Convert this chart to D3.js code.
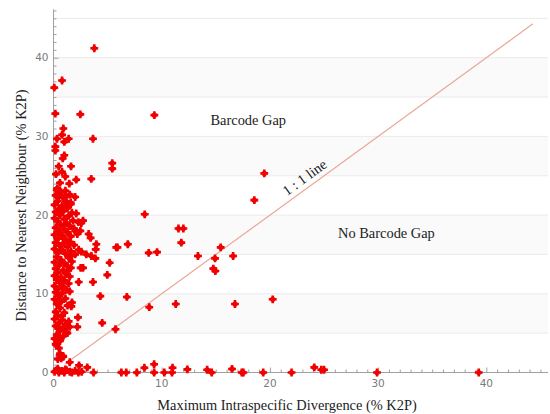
<!DOCTYPE html>
<html><head><meta charset="utf-8">
<script src="https://cdn.jsdelivr.net/npm/d3@7"></script>
<style>body{margin:0;background:#fff}svg{display:block}</style>
</head><body><svg id="c" width="550" height="414"></svg>
<script>
// ---- data ----
const xTickLabels = [0, 10, 20, 30, 40];
const yTickLabels = [0, 10, 20, 30, 40];
const xTitle = "Maximum Intraspecific Divergence (% K2P)";
const yTitle = "Distance to Nearest Neighbour (% K2P)";
const oneToOne = [1.1, 44.3];
// [max intraspecific divergence, distance to nearest neighbour]
const sparsePoints = [
 [3.77,41.2],[0.79,37.1],[0.07,36.2],[0.17,32.9],[2.48,32.8],[9.32,32.7],[0.91,31.0],[0.79,30.2],
 [0.32,29.7],[1.4,29.7],[3.65,29.7],[1.0,29.3],[0.17,28.7],[0.17,28.2],[1.0,27.6],[0.85,27.2],
 [0.48,26.2],[1.62,26.2],[5.43,26.6],[5.43,25.9],[0.79,25.5],[0.23,25.2],[1.09,24.9],[2.1,24.5],
 [3.49,24.6],[0.6,24.1],[1.46,24.0],[0.35,23.4],[1.06,22.3],[2.0,22.3],[0.48,22.4],
 [1.59,21.6],[1.19,21.3],[2.73,19.3],[2.57,19.0],[2.0,18.0],[2.48,18.0],[3.25,17.6],[3.43,17.1],
 [3.96,16.3],[3.9,15.65],[5.8,15.9],[2.57,15.35],[2.33,15.6],[3.5,14.8],[3.87,14.5],[3.03,15.0],
 [1.59,14.8],[5.19,13.95],[2.73,13.3],[2.51,13.3],[1.34,13.0],[4.97,12.4],[2.33,11.5],[3.65,11.5],
 [4.33,9.7],[1.71,8.9],[1.65,8.4],[2.26,7.0],[0.79,7.2],[4.5,6.3],[0.42,5.8],[1.03,5.6],[2.2,5.8],
 [1.28,5.0],[0.57,4.35],[0.26,3.5],[0.57,2.2],[0.72,1.8],[0.88,2.1],[1.5,1.3],[2.36,0.9],[3.12,0.65],
 [5.73,5.5],
 [8.43,20.1],[11.55,18.3],[12.0,18.3],[11.81,16.5],[6.87,16.3],[5.91,15.9],[8.8,15.2],[9.57,15.3],
 [13.35,14.8],[15.45,15.9],[14.93,14.5],[14.77,13.2],[14.96,12.9],[16.6,14.8],[19.48,25.3],[18.56,21.9],
 [16.77,8.7],[20.26,9.3],[6.78,9.6],[11.3,8.7],[8.85,8.3],
 [8.4,0.6],[9.3,1.05],[11.0,0.6],[12.37,0.4],[14.2,0.35],[16.5,0.45],[24.1,0.65],[24.75,0.35],[25.0,0.35],
 [3.7,0],[6.27,0],[6.72,0],[7.7,0],[9.3,0],[10.24,0],[10.95,0],[14.62,0],[17.4,0],[17.55,0],[19.38,0],
 [22.0,0],[29.9,0],[39.3,0]
];
const densePoints = [
 [0.3,23.2],[0.7,22.9],[1.1,23.1],[0.2,22.5],[1.5,22.6],[0.9,22.2],
 [0.4,21.8],[1.2,21.7],[0.1,21.3],[0.8,21.2],[1.6,21.4],[0.5,20.8],[1.3,20.9],
 [0.2,20.4],[0.9,20.5],[1.7,20.3],[0.6,20.0],[1.4,19.9],[2.1,20.2],
 [0.1,19.6],[1.0,19.5],[0.4,19.2],[1.8,19.3],[1.2,19.0],[2.3,19.1],
 [0.7,18.7],[0.2,18.4],[1.5,18.6],[1.0,18.2],[1.9,18.3],[0.5,17.9],
 [1.3,17.8],[0.1,17.5],[0.8,17.4],[1.6,17.3],[2.2,17.6],[0.4,17.0],[1.1,16.9],
 [0.2,16.5],[0.9,16.4],[1.5,16.6],[0.6,16.1],[1.3,16.0],[1.9,16.2],
 [0.1,15.7],[0.8,15.6],[1.6,15.4],[0.4,15.2],[1.1,15.1],[2.0,15.0],
 [0.3,14.7],[1.4,14.6],[0.7,14.3],[0.1,14.0],[1.0,13.9],[1.7,14.1],
 [0.5,13.6],[1.3,13.5],[0.2,13.2],[0.9,13.0],[1.6,13.3],
 [0.4,12.7],[1.2,12.5],[0.1,12.3],[0.7,12.1],[1.5,12.2],
 [0.3,11.8],[1.0,11.7],[0.6,11.4],[1.4,11.3],[0.1,11.0],[0.9,10.9],
 [0.4,10.6],[1.2,10.5],[0.2,10.2],[0.8,10.1],[1.5,10.3],
 [0.5,9.7],[0.1,9.3],[1.1,9.4],[0.7,9.0],
 [0.3,8.7],[1.3,8.5],[0.6,8.2],
 [0.2,7.7],[1.0,7.6],[0.4,7.2],
 [0.1,6.8],[0.8,6.7],[1.4,6.5],[0.5,6.3],[1.1,6.1],
 [0.2,5.9],[0.9,5.6],[1.5,5.8],[0.6,5.3],[1.2,5.1],
 [0.3,4.8],[0.9,4.6],[0.1,4.3],[0.6,4.0],
 [0.2,3.6],[0.5,3.1],
 [0.6,2.4],[0.9,2.0],[0.4,1.7],
 [0.1,0.1],[0.3,0.3],[0.5,0],[0.8,0.2],[1.0,0],[1.2,0.3],[1.5,0.1],[1.7,0],[2.0,0.2],[2.3,0],[2.6,0.1],
 [0.4,0.5],[1.1,0.4]
];
const annotations = [
 {text:"Barcode Gap", x:18.0, y:32.1, anchor:"middle", rotate:0},
 {text:"No Barcode Gap", x:26.3, y:17.7, anchor:"start", rotate:0},
 {text:"1 : 1 line", x:23.2, y:24.8, anchor:"middle", rotate:-36}
];

// ---- chart ----
const svg = d3.select("#c");
const x = d3.scaleLinear().domain([0, 45.7]).range([53.5, 548]);
const y = d3.scaleLinear().domain([0, 46.15]).range([372.5, 9.3]);
const [x0, x1] = x.range();

// alternating bands
const bands = [5, 15, 25, 35];
svg.append("g").selectAll("rect").data(bands).join("rect")
  .attr("x", x0).attr("width", x1 - x0)
  .attr("y", d => y(d + 5)).attr("height", d => y(d) - y(d + 5))
  .attr("fill", "#fafafa");
// gridlines
svg.append("g").selectAll("line").data(d3.range(5, 46, 5)).join("line")
  .attr("x1", x0).attr("x2", x1).attr("y1", d => y(d)).attr("y2", d => y(d))
  .attr("stroke", "#ebebeb").attr("stroke-width", 1);

// 1:1 line
svg.append("line")
  .attr("x1", x(oneToOne[0])).attr("y1", y(oneToOne[0]))
  .attr("x2", x(oneToOne[1])).attr("y2", y(oneToOne[1]))
  .attr("stroke", "#e9a896").attr("stroke-width", 1.2);

// axes
const axisCol = "#a0a0a0";
const xAxis = svg.append("g").attr("transform", `translate(0,${y(0)})`);
xAxis.call(d3.axisTop(x).tickValues(d3.range(0, 46, 1)).tickSize(3).tickFormat(""));
xAxis.call(g => g.selectAll(".tick").filter(d => d % 10 === 0).select("line").attr("y2", -5));
xAxis.select(".domain").attr("d", `M${x0},0H${x1}`);
xAxis.selectAll("line,path").attr("stroke", axisCol);
svg.append("g").selectAll("text").data(xTickLabels).join("text")
  .attr("x", d => x(d)).attr("y", y(0) + 14).attr("text-anchor", "middle")
  .attr("font-family", "DejaVu Sans, sans-serif").attr("font-size", 10.5).attr("fill", "#7a7a7a")
  .text(d => d);

const yAxis = svg.append("g").attr("transform", `translate(${x0},0)`);
yAxis.call(d3.axisRight(y).tickValues(d3.range(0, 47, 1)).tickSize(3).tickFormat(""));
yAxis.call(g => g.selectAll(".tick").filter(d => d % 10 === 0).select("line").attr("x2", 5));
yAxis.select(".domain").attr("d", `M0,${y.range()[1]}V${y(0)}`);
yAxis.selectAll("line,path").attr("stroke", axisCol);
svg.append("g").selectAll("text").data(yTickLabels).join("text")
  .attr("x", x0 - 5).attr("y", d => y(d)).attr("dy", "0.35em").attr("text-anchor", "end")
  .attr("font-family", "DejaVu Sans, sans-serif").attr("font-size", 10.5).attr("fill", "#7a7a7a")
  .text(d => d);

// points: fat rounded plus marker
const cross = d3.symbol().type(d3.symbolCross).size(34);
const pts = svg.append("g").selectAll("g").data(densePoints.concat(sparsePoints)).join("g")
  .attr("transform", d => `translate(${x(d[0])},${y(d[1])})`)
  .attr("fill", "#f00000");
pts.append("path").attr("d", cross);
pts.append("circle").attr("r", 2.6);

// titles
const serif = "Liberation Serif, Times New Roman, serif";
svg.append("text").attr("x", 287).attr("y", 410).attr("text-anchor", "middle")
  .attr("font-family", serif).attr("font-size", 14.4).attr("fill", "#222").text(xTitle);
svg.append("text").attr("transform", "translate(26,205.5) rotate(-90)").attr("text-anchor", "middle")
  .attr("font-family", serif).attr("font-size", 14.4).attr("fill", "#222").text(yTitle);

svg.append("g").selectAll("text").data(annotations).join("text")
  .attr("transform", d => `translate(${x(d.x)},${y(d.y)}) rotate(${d.rotate})`)
  .attr("text-anchor", d => d.anchor).attr("dy", "0.35em")
  .attr("font-family", serif).attr("font-size", 14.4).attr("fill", "#222")
  .text(d => d.text);
</script></body></html>
